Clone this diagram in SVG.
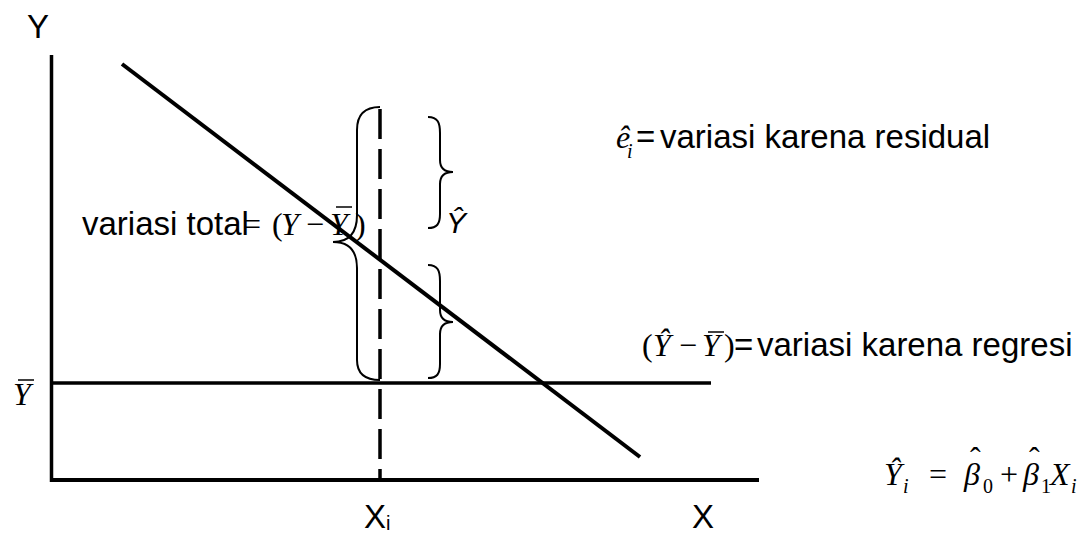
<svg xmlns="http://www.w3.org/2000/svg" width="1085" height="534" viewBox="0 0 1085 534">
<style>
.s{font-family:"Liberation Sans",Arial,sans-serif;font-size:33px;fill:#000}
.m{font-family:"Liberation Serif","Times New Roman",serif;font-size:32px;fill:#000}
.mi{font-family:"Liberation Serif","Times New Roman",serif;font-size:32px;font-style:italic;fill:#000}
.sub{font-family:"Liberation Serif","Times New Roman",serif;font-size:20px;font-style:italic;fill:#000}
.subn{font-family:"Liberation Serif","Times New Roman",serif;font-size:20px;fill:#000}
.ax{stroke:#000;fill:none;stroke-linecap:butt}
.br{stroke:#000;stroke-width:2;fill:none}
.bar{stroke:#000;stroke-width:1.5}
</style>
<rect width="1085" height="534" fill="#fff"/>
<g id="axes">
<line class="ax" x1="51.5" y1="55" x2="51.5" y2="482" stroke-width="3.5"/>
<line class="ax" x1="50" y1="480" x2="759" y2="480" stroke-width="4"/>
<text class="s" x="27" y="38">Y</text>
<text class="s" x="692" y="528">X</text>
<text class="s" x="364" y="528">X<tspan font-size="20" dy="2">i</tspan></text>
</g>
<g id="connectors">
<line id="regline" class="ax" x1="122" y1="64" x2="640" y2="457" stroke-width="4"/>
<line id="ybarline" class="ax" x1="51" y1="383" x2="711" y2="383" stroke-width="3.5"/>
<line id="xi-dash" class="ax" x1="380" y1="109" x2="380" y2="480" stroke-width="3.5" stroke-dasharray="30 10"/>
</g>
<g id="braces">
<path class="br" d="M380,107 C365,107 357,115 357,130 L357,215 C357,232 350,242 333,242 C350,242 357,252 357,268 L357,360 C357,373 365,380 380,380"/>
<path class="br" d="M428,117 C438,117 440,123 440,133 L440,160 C440,168 445,172 453,172 C445,172 440,176 440,184 L440,214 C440,224 437,228 428,228"/>
<path class="br" d="M428,265 C438,265 440,271 440,281 L440,310 C440,318 445,322 453,322 C445,322 440,326 440,334 L440,364 C440,374 437,378 428,378"/>
</g>
<g id="label-yhat">
<text x="446" y="233" font-family="'Liberation Sans',Arial,sans-serif" font-size="30" font-style="italic">Ŷ</text>
</g>
<g id="label-total">
<text class="s" x="82" y="235" font-size="30.5">variasi total</text>
<text class="m" x="243" y="235">=</text>
<text class="m" x="272" y="235">(</text>
<text class="mi" x="281" y="235">Y</text>
<text class="m" x="306" y="235">−</text>
<text class="mi" x="330" y="235">Y</text>
<line class="bar" x1="336" y1="207" x2="352" y2="207"/>
<text class="m" x="355" y="235">)</text>
</g>
<g id="label-residual">
<text class="mi" x="616" y="148">ê</text>
<text class="sub" x="627" y="158">i</text>
<text class="s" x="636" y="148" font-size="32">=</text>
<text class="s" x="660" y="148" font-size="32">variasi karena residual</text>
</g>
<g id="label-regression">
<text class="m" x="642" y="356">(</text>
<text class="mi" x="653" y="356">Ŷ</text>
<text class="m" x="679" y="356">−</text>
<text class="mi" x="702" y="356">Y</text>
<line class="bar" x1="708" y1="332" x2="724" y2="332"/>
<text class="m" x="724" y="356">)</text>
<text class="s" x="734" y="356">=</text>
<text class="s" x="757" y="356">variasi karena regresi</text>
</g>
<g id="label-ybar">
<text class="mi" x="13" y="405">Y</text>
<line class="bar" x1="18" y1="380" x2="34" y2="380"/>
</g>
<g id="label-model">
<text class="mi" x="884" y="485">Ŷ</text>
<text class="sub" x="903" y="493">i</text>
<text class="m" x="929" y="485">=</text>
<text class="mi" x="964" y="485">β</text>
<text class="m" x="970" y="469">ˆ</text>
<text class="subn" x="983" y="493">0</text>
<text class="m" x="1000" y="485">+</text>
<text class="mi" x="1023" y="485">β</text>
<text class="m" x="1029" y="469">ˆ</text>
<text class="subn" x="1041" y="493">1</text>
<text class="mi" x="1050" y="485">X</text>
<text class="sub" x="1071" y="493">i</text>
</g>
</svg>
